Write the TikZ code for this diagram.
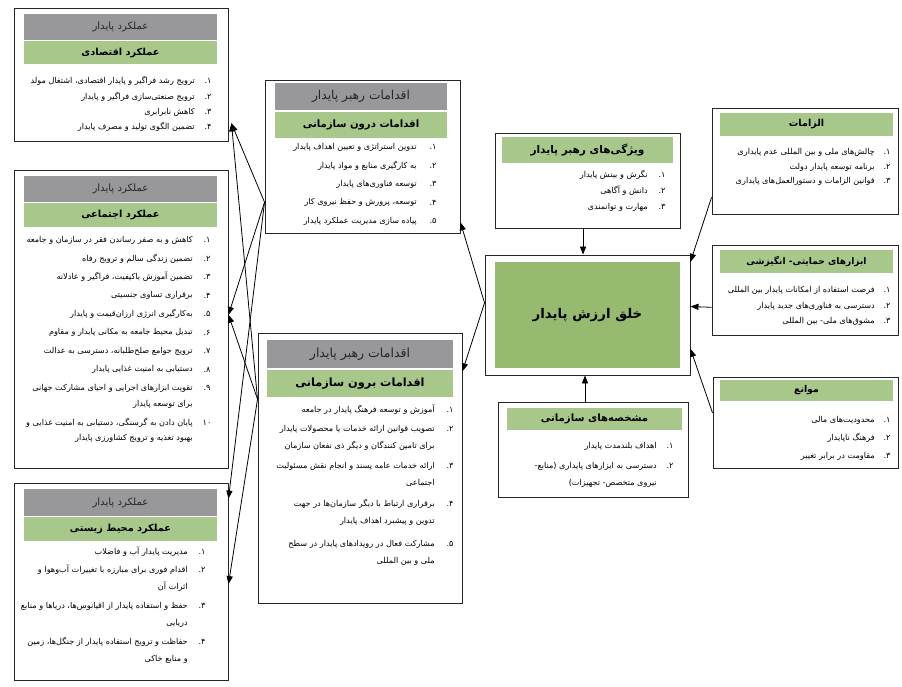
\documentclass[tikz,border=0pt]{standalone}
\usepackage{fontspec}
\usetikzlibrary{arrows.meta,calc,fit}
\newfontfamily\fa[Script=Arabic]{DejaVu Sans}
\TeXXeTstate=1
\newcommand\FaR[1]{\beginR#1\endR}
\definecolor{hgray}{RGB}{152,152,154}
\definecolor{hgreen}{RGB}{168,199,138}
\definecolor{cgreen}{RGB}{150,186,112}
\begin{document}
\begin{tikzpicture}[x=0.75pt,y=-0.75pt,
  box/.style={draw=black!85, line width=0.7pt, fill=white, inner sep=0pt},
  ghdr/.style={fill=hgray, draw=none, inner sep=0pt},
  nhdr/.style={fill=hgreen, draw=none, inner sep=0pt},
  gtxt/.style={inner sep=0pt, text=black!85, font=\fa\fontsize{7.6}{9}\selectfont},
  ntxt/.style={inner sep=0pt, text=black, font=\fa\bfseries\fontsize{7.3}{9}\selectfont},
  itm/.style={font=\fa\fontsize{6.1}{7.5}\selectfont, inner sep=0pt, anchor=east},
  num/.style={font=\fa\fontsize{6.1}{7.5}\selectfont, inner sep=0pt},
  arr/.style={line width=0.6pt, draw=black, -{Triangle[length=6pt,width=4.6pt]}}]
\useasboundingbox (0,0) rectangle (902,686);
\fill[white] (0,0) rectangle (902,686);

% ---------- A: economic ----------
\node[box, fit={(14,8) (228,141)}] (bA) {};
\node[ghdr, fit={(24,14) (217,40)}] (hA1) {};
\node[gtxt] (xA1) at (hA1.center) {\FaR{عملکرد پایدار}};
\node[nhdr, fit={(24,41) (217,64)}] (hA2) {};
\node[ntxt] (xA2) at (hA2.center) {\FaR{عملکرد اقتصادی}};
\node[num] (nA1) at (208,81) {۱.};
\node[itm] (tA1) at (195,81) {\FaR{ترویج رشد فراگیر و پایدار اقتصادی، اشتغال مولد}};
\node[num] (nA2) at (208,97) {۲.};
\node[itm] (tA2) at (195,97) {\FaR{ترویج صنعتی‌سازی فراگیر و پایدار}};
\node[num] (nA3) at (208,112) {۳.};
\node[itm] (tA3) at (195,112) {\FaR{کاهش نابرابری}};
\node[num] (nA4) at (208,127) {۴.};
\node[itm] (tA4) at (195,127) {\FaR{تضمین الگوی تولید و مصرف پایدار}};

% ---------- B: social ----------
\node[box, fit={(14,170) (228,468)}] (bB) {};
\node[ghdr, fit={(24,176) (217,202)}] (hB1) {};
\node[gtxt] (xB1) at (hB1.center) {\FaR{عملکرد پایدار}};
\node[nhdr, fit={(24,203) (217,227)}] (hB2) {};
\node[ntxt] (xB2) at (hB2.center) {\FaR{عملکرد اجتماعی}};
\node[num] (nB1) at (207,240) {۱.};
\node[itm] (tB1) at (193,240) {\FaR{کاهش و به صفر رساندن فقر در سازمان و جامعه}};
\node[num] (nB2) at (207,258.5) {۲.};
\node[itm] (tB2) at (193,258.5) {\FaR{تضمین زندگی سالم و ترویج رفاه}};
\node[num] (nB3) at (207,277) {۳.};
\node[itm] (tB3) at (193,277) {\FaR{تضمین آموزش باکیفیت، فراگیر و عادلانه}};
\node[num] (nB4) at (207,295.5) {۴.};
\node[itm] (tB4) at (193,295.5) {\FaR{برقراری تساوی جنسیتی}};
\node[num] (nB5) at (207,314) {۵.};
\node[itm] (tB5) at (193,314) {\FaR{به‌کارگیری انرژی ارزان‌قیمت و پایدار}};
\node[num] (nB6) at (207,332.5) {۶.};
\node[itm] (tB6) at (193,332.5) {\FaR{تبدیل محیط جامعه به مکانی پایدار و مقاوم}};
\node[num] (nB7) at (207,351) {۷.};
\node[itm] (tB7) at (193,351) {\FaR{ترویج جوامع صلح‌طلبانه، دسترسی به عدالت}};
\node[num] (nB8) at (207,369.5) {۸.};
\node[itm] (tB8) at (193,369.5) {\FaR{دستیابی به امنیت غذایی پایدار}};
\node[num] (nB9) at (207,388) {۹.};
\node[itm] (tB9) at (193,388) {\FaR{تقویت ابزارهای اجرایی و احیای مشارکت جهانی}};
\node[itm] (tB9b) at (193,404) {\FaR{برای توسعه پایدار}};
\node[num] (nB10) at (207,422.5) {۱۰};
\node[itm] (tB10) at (193,422.5) {\FaR{پایان دادن به گرسنگی، دستیابی به امنیت غذایی و}};
\node[itm] (tB10b) at (193,438.5) {\FaR{بهبود تغذیه و ترویج کشاورزی پایدار}};

% ---------- C: environmental ----------
\node[box, fit={(14,483) (228,680)}] (bC) {};
\node[ghdr, fit={(24,489) (217,516)}] (hC1) {};
\node[gtxt] (xC1) at (hC1.center) {\FaR{عملکرد پایدار}};
\node[nhdr, fit={(24,517) (217,541)}] (hC2) {};
\node[ntxt] (xC2) at (hC2.center) {\FaR{عملکرد محیط زیستی}};
\node[num] (nC1) at (202,552) {۱.};
\node[itm] (tC1) at (188,552) {\FaR{مدیریت پایدار آب و فاضلاب}};
\node[num] (nC2) at (202,570) {۲.};
\node[itm] (tC2) at (188,570) {\FaR{اقدام فوری برای مبارزه با تغییرات آب‌وهوا و}};
\node[itm] (tC2b) at (188,587) {\FaR{اثرات آن}};
\node[num] (nC3) at (202,606) {۳.};
\node[itm] (tC3) at (188,606) {\FaR{حفظ و استفاده پایدار از اقیانوس‌ها، دریاها و منابع}};
\node[itm] (tC3b) at (188,623) {\FaR{دریایی}};
\node[num] (nC4) at (202,642) {۴.};
\node[itm] (tC4) at (188,642) {\FaR{حفاظت و ترویج استفاده پایدار از جنگل‌ها، زمین}};
\node[itm] (tC4b) at (188,659) {\FaR{و منابع خاکی}};

% ---------- D: inner-organisational actions ----------
\node[box, fit={(265,80) (460,233)}] (bD) {};
\node[ghdr, fit={(275,83) (447,110)}] (hD1) {};
\node[gtxt, font=\fa\fontsize{9.2}{11}\selectfont] (xD1) at (hD1.center) {\FaR{اقدامات رهبر پایدار}};
\node[nhdr, fit={(275,112) (447,138)}] (hD2) {};
\node[ntxt, font=\fa\bfseries\fontsize{7.6}{9}\selectfont] (xD2) at (hD2.center) {\FaR{اقدامات درون سازمانی}};
\node[num] (nD1) at (433,147) {۱.};
\node[itm] (tD1) at (417,147) {\FaR{تدوین استراتژی و تعیین اهداف پایدار}};
\node[num] (nD2) at (433,165.5) {۲.};
\node[itm] (tD2) at (417,165.5) {\FaR{به کارگیری منابع و مواد پایدار}};
\node[num] (nD3) at (433,184) {۳.};
\node[itm] (tD3) at (417,184) {\FaR{توسعه فناوری‌های پایدار}};
\node[num] (nD4) at (433,202.5) {۴.};
\node[itm] (tD4) at (417,202.5) {\FaR{توسعه، پرورش و حفظ نیروی کار}};
\node[num] (nD5) at (433,221) {۵.};
\node[itm] (tD5) at (417,221) {\FaR{پیاده سازی مدیریت عملکرد پایدار}};

% ---------- E: outer-organisational actions ----------
\node[box, fit={(258,333) (462,603)}] (bE) {};
\node[ghdr, fit={(267,340) (453,368)}] (hE1) {};
\node[gtxt, font=\fa\fontsize{9.4}{11}\selectfont] (xE1) at (hE1.center) {\FaR{اقدامات رهبر پایدار}};
\node[nhdr, fit={(267,370) (453,397)}] (hE2) {};
\node[ntxt, font=\fa\bfseries\fontsize{8.5}{10}\selectfont] (xE2) at (hE2.center) {\FaR{اقدامات برون سازمانی}};
\node[num] (nE1) at (450,410) {۱.};
\node[itm] (tE1) at (435,410) {\FaR{آموزش و توسعه فرهنگ پایدار در جامعه}};
\node[num] (nE2) at (450,429) {۲.};
\node[itm] (tE2) at (435,429) {\FaR{تصویب قوانین ارائه خدمات یا محصولات پایدار}};
\node[itm] (tE2b) at (435,446) {\FaR{برای تامین کنندگان و دیگر ذی نفعان سازمان}};
\node[num] (nE3) at (450,466) {۳.};
\node[itm] (tE3) at (435,466) {\FaR{ارائه خدمات عامه پسند و انجام نقش مسئولیت}};
\node[itm] (tE3b) at (435,483) {\FaR{اجتماعی}};
\node[num] (nE4) at (450,504) {۴.};
\node[itm] (tE4) at (435,504) {\FaR{برقراری ارتباط با دیگر سازمان‌ها در جهت}};
\node[itm] (tE4b) at (435,521) {\FaR{تدوین و پیشبرد اهداف پایدار}};
\node[num] (nE5) at (450,544) {۵.};
\node[itm] (tE5) at (435,544) {\FaR{مشارکت فعال در رویدادهای پایدار در سطح}};
\node[itm] (tE5b) at (435,561) {\FaR{ملی و بین المللی}};

% ---------- F: leader features ----------
\node[box, fit={(495,133) (680,228)}] (bF) {};
\node[nhdr, fit={(502,137) (673,163)}] (hF) {};
\node[ntxt, font=\fa\bfseries\fontsize{7.9}{9}\selectfont] (xF) at (hF.center) {\FaR{ویژگی‌های رهبر پایدار}};
\node[num] (nF1) at (662,175) {۱.};
\node[itm] (tF1) at (648,175) {\FaR{نگرش و بینش پایدار}};
\node[num] (nF2) at (662,191) {۲.};
\node[itm] (tF2) at (648,191) {\FaR{دانش و آگاهی}};
\node[num] (nF3) at (662,207) {۳.};
\node[itm] (tF3) at (648,207) {\FaR{مهارت و توانمندی}};

% ---------- G: value creation ----------
\node[box, fit={(485,255) (690,375)}] (bG) {};
\node[fill=cgreen, inner sep=0pt, fit={(495,262) (680,368)}] (hG) {};
\node[inner sep=0pt, font=\fa\bfseries\fontsize{10}{12}\selectfont] (xG) at (hG.center) {\FaR{خلق ارزش پایدار}};

% ---------- H: organisational specs ----------
\node[box, fit={(498,402) (688,497)}] (bH) {};
\node[nhdr, fit={(507,408) (682,430)}] (hH) {};
\node[ntxt, font=\fa\bfseries\fontsize{7.6}{9}\selectfont] (xH) at (hH.center) {\FaR{مشخصه‌های سازمانی}};
\node[num] (nH1) at (670,446) {۱.};
\node[itm] (tH1) at (657,446) {\FaR{اهداف بلندمدت پایدار}};
\node[num] (nH2) at (670,466) {۲.};
\node[itm] (tH2) at (657,466) {\FaR{دسترسی به ابزارهای پایداری (منابع-}};
\node[itm] (tH2b) at (657,483) {\FaR{نیروی متخصص- تجهیزات)}};

% ---------- I: requirements ----------
\node[box, fit={(712,108) (898,214)}] (bI) {};
\node[nhdr, fit={(720,113) (893,136)}] (hI) {};
\node[ntxt, font=\fa\bfseries\fontsize{7.2}{9}\selectfont] (xI) at (hI.center) {\FaR{الزامات}};
\node[num] (nI1) at (887,152) {۱.};
\node[itm] (tI1) at (875,152) {\FaR{چالش‌های ملی و بین المللی عدم پایداری}};
\node[num] (nI2) at (887,167) {۲.};
\node[itm] (tI2) at (875,167) {\FaR{برنامه توسعه پایدار دولت}};
\node[num] (nI3) at (887,181) {۳.};
\node[itm] (tI3) at (875,181) {\FaR{قوانین الزامات و دستورالعمل‌های پایداری}};

% ---------- J: support tools ----------
\node[box, fit={(712,245) (898,335)}] (bJ) {};
\node[nhdr, fit={(720,250) (893,273)}] (hJ) {};
\node[ntxt, font=\fa\bfseries\fontsize{6.8}{9}\selectfont] (xJ) at (hJ.center) {\FaR{ابزارهای حمایتی- انگیزشی}};
\node[num] (nJ1) at (887,290) {۱.};
\node[itm] (tJ1) at (875,290) {\FaR{فرصت استفاده از امکانات پایدار بین المللی}};
\node[num] (nJ2) at (887,306) {۲.};
\node[itm] (tJ2) at (875,306) {\FaR{دسترسی به فناوری‌های جدید پایدار}};
\node[num] (nJ3) at (887,321) {۳.};
\node[itm] (tJ3) at (875,321) {\FaR{مشوق‌های ملی- بین المللی}};

% ---------- K: barriers ----------
\node[box, fit={(713,377) (898,468)}] (bK) {};
\node[nhdr, fit={(720,380) (893,401)}] (hK) {};
\node[ntxt, font=\fa\bfseries\fontsize{7}{9}\selectfont] (xK) at (hK.center) {\FaR{موانع}};
\node[num] (nK1) at (887,420) {۱.};
\node[itm] (tK1) at (875,420) {\FaR{محدودیت‌های مالی}};
\node[num] (nK2) at (887,438) {۲.};
\node[itm] (tK2) at (875,438) {\FaR{فرهنگ ناپایدار}};
\node[num] (nK3) at (887,456) {۳.};
\node[itm] (tK3) at (875,456) {\FaR{مقاومت در برابر تغییر}};

% ---------- connectors ----------
\coordinate (dL) at ($(bD.north west)!0.797!(bD.south west)$);
\coordinate (eL) at ($(bE.north west)!0.246!(bE.south west)$);
\coordinate (gL) at ($(bG.north west)!0.40!(bG.south west)$);
\draw[arr] (dL) -- ($(bA.north east)!0.865!(bA.south east)+(3,0)$);
\draw[arr] (dL) -- ($(bB.north east)!0.486!(bB.south east)$);
\draw[arr] (dL) -- ($(bC.north east)!0.081!(bC.south east)$);
\draw[arr] (eL) -- ($(bA.north east)!0.865!(bA.south east)+(3,0)$);
\draw[arr] (eL) -- ($(bB.north east)!0.486!(bB.south east)$);
\draw[arr] (eL) -- ($(bC.north east)!0.513!(bC.south east)$);
\draw[arr] (gL) -- ($(bD.north east)!0.928!(bD.south east)$);
\draw[arr] (gL) -- ($(bE.north east)!0.143!(bE.south east)$);
\coordinate (fS) at ($(bF.south west)!0.476!(bF.south east)$);
\draw[arr] (fS) -- (fS |- bG.north);
\coordinate (hN) at ($(bH.north west)!0.458!(bH.north east)$);
\draw[arr] (hN) -- (hN |- bG.south);
\draw[arr] ($(bI.north west)!0.84!(bI.south west)$) -- ($(bG.north east)!0.06!(bG.south east)$);
\draw[arr] ($(bJ.north west)!0.69!(bJ.south west)$) -- ($(bG.north east)!0.43!(bG.south east)$);
\draw[arr] ($(bK.north west)!0.396!(bK.south west)$) -- ($(bG.north east)!0.78!(bG.south east)$);
\end{tikzpicture}
\end{document}
